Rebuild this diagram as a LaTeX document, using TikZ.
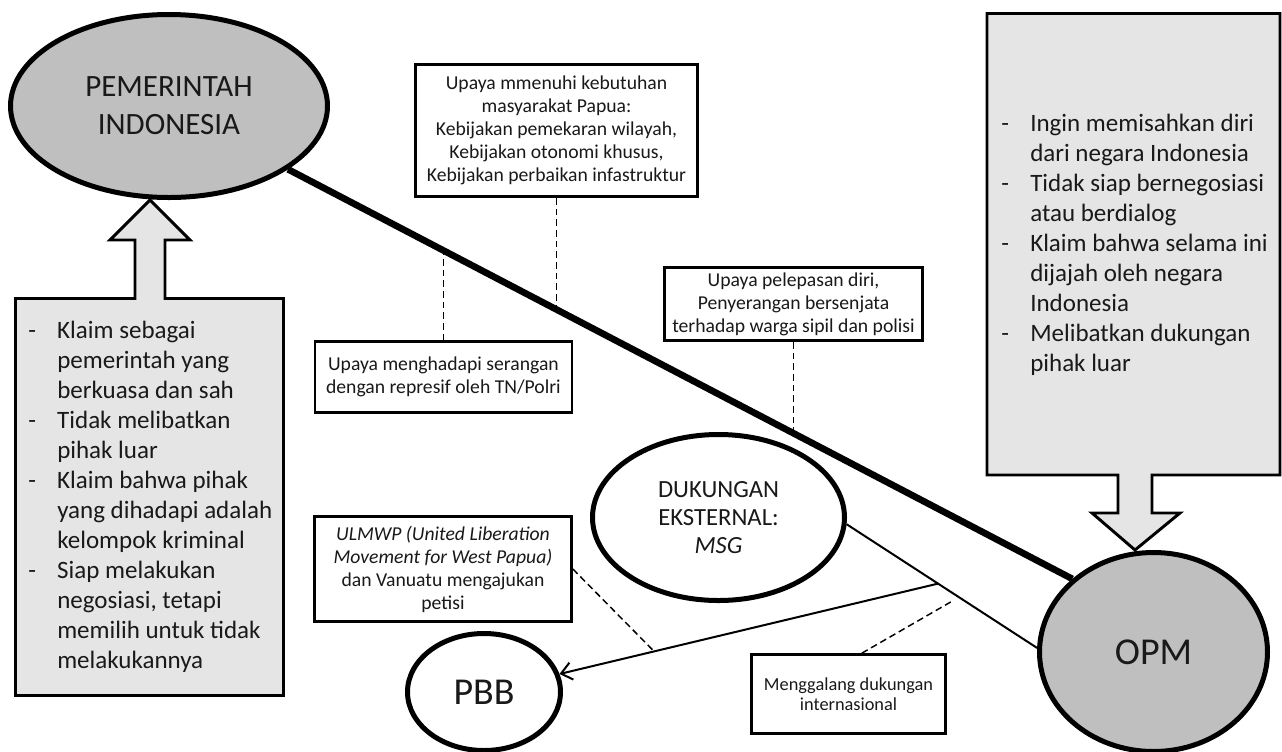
\documentclass[tikz,border=0pt]{standalone}
\usepackage{fontspec}
\setmainfont{Carlito}
\usetikzlibrary{arrows.meta,shapes.geometric,calc}
\definecolor{calfill}{RGB}{229,229,229}
\definecolor{elfill}{RGB}{191,191,191}
\definecolor{txt}{RGB}{25,25,25}
\newcommand\lidash{\makebox[21.75pt][l]{-}}
\newcommand\licont{\hspace*{21.75pt}}
\pgfdeclarelayer{bg}
\pgfsetlayers{bg,main}
\begin{document}
\begin{tikzpicture}[x=0.75pt,y=-0.75pt,
  ell/.style={ellipse,draw=black,line width=3.75pt,inner sep=0pt,text=txt,align=center},
  gbox/.style={rectangle,draw=black,line width=2pt,fill=white,inner sep=0pt,text=txt,align=center,font=\fontsize{14.75}{17.25}\selectfont},
  callout/.style={draw=black,line width=2.2pt,fill=calfill,line join=miter},
  listtext/.style={inner sep=0pt,anchor=west,align=left,text=txt,font=\fontsize{18.75}{22.5}\selectfont},
  dashline/.style={line width=1.1pt,dash pattern=on 5pt off 3pt},
  thinline/.style={line width=1.5pt},
  thickline/.style={line width=5pt},
]
\useasboundingbox (0,0) rectangle (1282,751);

% ellipses
\node[ell,fill=elfill,minimum width=237.75pt,minimum height=137.25pt,font=\fontsize{23.25}{28.5}\selectfont] (pem) at (169,106) {PEMERINTAH\\INDONESIA};
\node[ell,fill=white,minimum width=189pt,minimum height=124.5pt,font=\fontsize{18.5}{21}\selectfont] (dk) at (718.5,517.5) {DUKUNGAN\\EKSTERNAL:\\\textit{MSG}};
\node[ell,fill=elfill,minimum width=171pt,minimum height=149.25pt,font=\fontsize{28.5}{34}\selectfont] (opm) at (1153.5,652) {OPM};
\node[ell,fill=white,minimum width=114.75pt,minimum height=87.75pt,font=\fontsize{28.5}{34}\selectfont] (pbb) at (484,692) {\raisebox{-3pt}{PBB}};

% boxes
\node[gbox,minimum width=211.5pt,minimum height=99pt] (up) at (556.5,130.5) {Upaya mmenuhi kebutuhan\\masyarakat Papua:\\Kebijakan pemekaran wilayah,\\Kebijakan otonomi khusus,\\Kebijakan perbaikan infastruktur};
\node[gbox,minimum width=192.75pt,minimum height=53.25pt] (hd) at (443.4,377) {Upaya menghadapi serangan\\dengan represif oleh TN/Polri};
\node[gbox,minimum width=193.5pt,minimum height=54.75pt] (pl) at (793.5,304) {Upaya pelepasan diri,\\Penyerangan bersenjata\\terhadap warga sipil dan polisi};
\node[gbox,minimum width=192.75pt,minimum height=78.75pt] (ul) at (443,569) {\textit{ULMWP (United Liberation}\\\textit{Movement for West Papua)}\\dan Vanuatu mengajukan\\petisi};
\node[gbox,minimum width=145.5pt,minimum height=59.25pt,font=\fontsize{13.75}{15}\selectfont] (mg) at (848.5,694) {Menggalang dukungan\\internasional};

% list texts
\node[listtext] (lt) at (28,497) {\lidash Klaim sebagai\\ \licont pemerintah yang\\ \licont berkuasa dan sah\\ \lidash Tidak melibatkan\\ \licont pihak luar\\ \lidash Klaim bahwa pihak\\ \licont yang dihadapi adalah\\ \licont kelompok kriminal\\ \lidash Siap melakukan\\ \licont negosiasi, tetapi\\ \licont memilih untuk tidak\\ \licont melakukannya};
\node[listtext] (rt) at (1001,245) {\lidash Ingin memisahkan diri\\ \licont dari negara Indonesia\\ \lidash Tidak siap bernegosiasi\\ \licont atau berdialog\\ \lidash Klaim bahwa selama ini\\ \licont dijajah oleh negara\\ \licont Indonesia\\ \lidash Melibatkan dukungan\\ \licont pihak luar};

\begin{pgfonlayer}{bg}
  % callout shapes
  \draw[callout] (15.5,298.5) -- (135,298.5) -- (135,240) -- (110,240) -- (150,200) -- (190,240) -- (165,240) -- (165,298.5) -- (283.5,298.5) -- (283.5,695.5) -- (15.5,695.5) -- cycle;
  \draw[callout] (987,13.5) -- (1280,13.5) -- (1280,475) -- (1152,475) -- (1152,513) -- (1180,513) -- (1135,550) -- (1092,513) -- (1118,513) -- (1118,475) -- (987,475) -- cycle;
  % connectors
  \draw[thickline] (pem.-28) -- coordinate[pos=0.196] (t1) coordinate[pos=0.344] (t2) coordinate[pos=0.647] (t3) (opm.138);
  \draw[thinline] (dk.-3) -- coordinate[pos=0.48] (j) coordinate[pos=0.59] (m) (opm.178);
  \draw[thinline,-{Straight Barb[length=8pt,width=13pt]}] (j) -- coordinate[pos=0.75] (a2) (pbb);
  \draw[dashline] (up.south) -- (up.south |- t2);
  \draw[dashline] (hd.north) -- (hd.north |- t1);
  \draw[dashline] (pl.south) -- (pl.south |- t3);
  \draw[dashline] (ul.east) -- (a2);
  \draw[dashline,shorten >=5pt] ([xshift=10pt]mg.north) -- (m);
\end{pgfonlayer}
\end{tikzpicture}
\end{document}
